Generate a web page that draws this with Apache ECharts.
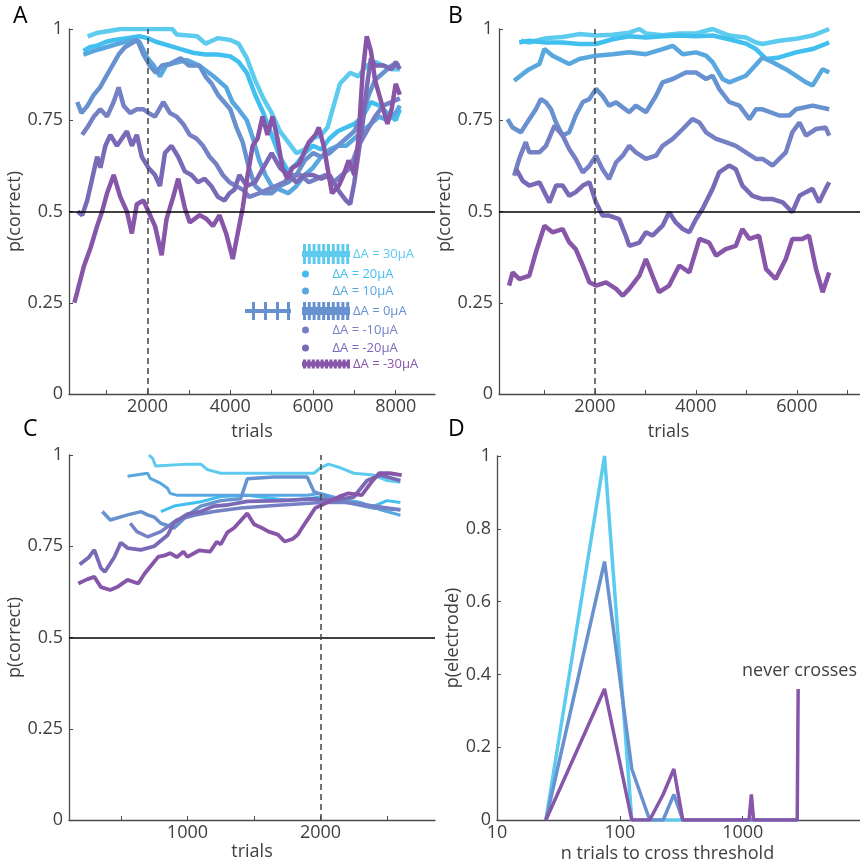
<!DOCTYPE html>
<html>
<head>
<meta charset="utf-8">
<script src="https://cdn.jsdelivr.net/npm/echarts@6/dist/echarts.min.js"></script>
<style>
html,body{margin:0;padding:0;background:#fff;}
#chart{width:860px;height:867px;}
</style>
</head>
<body>
<div id="chart"></div>
<script>
// series names and colours, 30uA (cyan) down to -30uA (purple)
var names = ['ΔA = 30μA', 'ΔA = 20μA', 'ΔA = 10μA', 'ΔA = 0μA', 'ΔA = -10μA', 'ΔA = -20μA', 'ΔA = -30μA'];
var colors = ['#5DCBEE', '#41BFEF', '#58A8DF', '#6891D0', '#7580C5', '#7A69B6', '#8756A8'];

// panel A : [trial, p(correct)]
var a30 = [[550,0.98],[800,0.99],[1100,0.995],[1350,1.0],[2600,1.0],[2700,0.985],[3200,0.98],[3400,0.96],[3600,0.97],[3700,0.975],[4000,0.97],[4200,0.96],[4400,0.92],[4600,0.86],[4800,0.81],[5000,0.77],[5200,0.72],[5400,0.69],[5600,0.66],[5800,0.67],[6000,0.7],[6200,0.71],[6350,0.73],[6500,0.79],[6650,0.85],[6900,0.88],[7100,0.87],[7300,0.9],[7500,0.91],[7700,0.9],[7900,0.89],[8100,0.89]];
var a20 = [[450,0.94],[600,0.95],[800,0.955],[1000,0.965],[1200,0.97],[1500,0.975],[1800,0.98],[2000,0.975],[2200,0.965],[2500,0.955],[2800,0.945],[3100,0.935],[3400,0.93],[3700,0.93],[4000,0.925],[4200,0.91],[4400,0.88],[4600,0.82],[4800,0.77],[5000,0.71],[5200,0.65],[5400,0.61],[5600,0.63],[5800,0.66],[6000,0.68],[6200,0.67],[6400,0.7],[6600,0.72],[6800,0.73],[7000,0.74],[7200,0.76],[7400,0.8],[7600,0.79],[7800,0.77],[8000,0.75],[8100,0.78]];
var a10 = [[450,0.93],[700,0.94],[1000,0.95],[1300,0.96],[1650,0.97],[1800,0.965],[2000,0.92],[2150,0.9],[2300,0.87],[2450,0.9],[2600,0.905],[2950,0.915],[3250,0.9],[3600,0.87],[3900,0.84],[4050,0.8],[4200,0.78],[4400,0.75],[4550,0.7],[4700,0.64],[4850,0.6],[5000,0.57],[5200,0.56],[5400,0.55],[5600,0.57],[5800,0.6],[6000,0.62],[6200,0.65],[6400,0.67],[6600,0.68],[6800,0.68],[7000,0.7],[7200,0.72],[7400,0.74],[7600,0.76],[7800,0.75],[8000,0.77],[8100,0.79]];
var a0 = [[300,0.8],[400,0.77],[550,0.79],[700,0.82],[850,0.84],[1000,0.87],[1150,0.9],[1300,0.93],[1450,0.95],[1600,0.96],[1750,0.97],[1900,0.93],[2050,0.9],[2200,0.88],[2350,0.9],[2550,0.905],[2800,0.92],[3000,0.9],[3250,0.9],[3400,0.87],[3550,0.85],[3700,0.82],[3850,0.8],[4000,0.78],[4150,0.73],[4300,0.69],[4450,0.62],[4600,0.57],[4800,0.55],[5000,0.55],[5200,0.57],[5400,0.58],[5600,0.6],[5800,0.64],[6000,0.66],[6200,0.65],[6400,0.66],[6600,0.68],[6800,0.7],[7000,0.72],[7200,0.77],[7350,0.82],[7500,0.86],[7700,0.88],[7900,0.9],[8100,0.9]];
var am10 = [[420,0.71],[540,0.73],[700,0.76],[860,0.78],[1020,0.76],[1180,0.8],[1300,0.84],[1420,0.79],[1580,0.77],[1740,0.78],[1900,0.78],[2020,0.77],[2180,0.76],[2380,0.8],[2540,0.77],[2700,0.76],[2860,0.74],[3020,0.71],[3180,0.7],[3340,0.68],[3500,0.65],[3660,0.63],[3820,0.6],[3980,0.58],[4140,0.57],[4300,0.56],[4460,0.54],[4700,0.55],[4900,0.56],[5100,0.57],[5300,0.58],[5500,0.6],[5700,0.6],[5900,0.58],[6100,0.59],[6300,0.6],[6500,0.58],[6700,0.6],[6900,0.62],[7100,0.68],[7300,0.72],[7500,0.76],[7700,0.79],[7900,0.8],[8100,0.81]];
var am20 = [[310,0.5],[420,0.49],[540,0.53],[660,0.59],[780,0.65],[860,0.62],[980,0.68],[1100,0.71],[1260,0.68],[1380,0.7],[1500,0.72],[1620,0.68],[1740,0.71],[1860,0.65],[2020,0.62],[2180,0.6],[2300,0.57],[2420,0.66],[2580,0.68],[2740,0.65],[2900,0.61],[3060,0.6],[3220,0.58],[3380,0.59],[3540,0.57],[3700,0.54],[3860,0.53],[3980,0.55],[4100,0.56],[4220,0.6],[4400,0.57],[4600,0.58],[4800,0.62],[5000,0.66],[5200,0.62],[5400,0.6],[5600,0.58],[5800,0.6],[6000,0.6],[6200,0.59],[6400,0.6],[6600,0.56],[6800,0.53],[6900,0.52],[7000,0.58],[7100,0.66],[7200,0.74],[7300,0.84],[7400,0.92],[7500,0.9],[7700,0.9],[7900,0.89],[8000,0.91],[8100,0.89]];
var am30 = [[230,0.25],[300,0.28],[460,0.35],[620,0.4],[780,0.46],[900,0.5],[1020,0.55],[1180,0.6],[1340,0.54],[1500,0.5],[1620,0.44],[1740,0.52],[1900,0.53],[2020,0.5],[2180,0.46],[2340,0.38],[2460,0.48],[2620,0.54],[2740,0.59],[2900,0.51],[3020,0.47],[3260,0.49],[3420,0.48],[3580,0.46],[3740,0.49],[3900,0.44],[4060,0.37],[4180,0.44],[4300,0.51],[4420,0.6],[4540,0.68],[4660,0.7],[4780,0.76],[4900,0.71],[5020,0.76],[5140,0.7],[5260,0.62],[5380,0.59],[5500,0.62],[5660,0.63],[5780,0.66],[5900,0.69],[6060,0.71],[6140,0.73],[6260,0.68],[6380,0.6],[6460,0.55],[6620,0.57],[6740,0.6],[6860,0.64],[7000,0.6],[7100,0.7],[7200,0.88],[7300,0.98],[7400,0.94],[7500,0.86],[7650,0.8],[7800,0.74],[7900,0.78],[8000,0.85],[8100,0.82]];

// panel B
var b30 = [[535,0.968],[700,0.963],[1030,0.975],[1360,0.978],[1690,0.986],[2020,0.982],[2350,0.984],[2680,0.99],[2880,1.0],[3010,0.988],[3340,0.983],[3670,0.988],[4000,0.988],[4330,1.0],[4660,0.982],[4990,0.977],[5190,0.963],[5320,0.959],[5650,0.968],[5980,0.973],[6310,0.982],[6640,1.0]];
var b20 = [[500,0.963],[700,0.968],[1030,0.963],[1360,0.963],[1690,0.959],[2020,0.959],[2350,0.972],[2680,0.98],[3010,0.977],[3340,0.98],[3670,0.982],[4000,0.98],[4330,0.982],[4660,0.972],[4990,0.96],[5190,0.945],[5390,0.918],[5650,0.922],[5980,0.936],[6310,0.945],[6640,0.963]];
var b10 = [[400,0.858],[570,0.877],[700,0.89],[900,0.904],[1000,0.945],[1160,0.927],[1360,0.913],[1490,0.904],[1690,0.918],[2020,0.927],[2350,0.931],[2680,0.936],[3010,0.931],[3340,0.945],[3540,0.954],[3740,0.931],[4000,0.936],[4200,0.927],[4330,0.909],[4530,0.863],[4660,0.854],[4990,0.872],[5320,0.922],[5520,0.909],[5780,0.89],[5980,0.872],[6180,0.854],[6310,0.845],[6510,0.89],[6640,0.881]];
var b0 = [[270,0.753],[370,0.73],[535,0.717],[700,0.753],[830,0.78],[930,0.808],[1030,0.799],[1130,0.78],[1230,0.744],[1360,0.708],[1490,0.717],[1620,0.763],[1760,0.8],[1890,0.808],[2020,0.836],[2150,0.817],[2280,0.79],[2420,0.799],[2680,0.772],[2810,0.79],[3010,0.772],[3210,0.817],[3340,0.854],[3540,0.863],[3800,0.881],[4000,0.881],[4200,0.863],[4330,0.872],[4460,0.836],[4660,0.8],[4860,0.79],[5060,0.753],[5190,0.78],[5320,0.78],[5650,0.763],[5850,0.763],[5980,0.78],[6310,0.79],[6640,0.78]];
var bm10 = [[400,0.598],[500,0.644],[630,0.69],[700,0.662],[900,0.662],[1030,0.68],[1200,0.735],[1360,0.708],[1490,0.671],[1620,0.644],[1760,0.607],[1890,0.625],[2020,0.653],[2150,0.616],[2280,0.589],[2420,0.635],[2550,0.653],[2680,0.68],[2810,0.662],[3010,0.644],[3210,0.653],[3340,0.68],[3540,0.699],[3740,0.726],[3930,0.753],[4070,0.744],[4200,0.717],[4400,0.699],[4590,0.69],[4790,0.68],[4990,0.662],[5190,0.644],[5320,0.644],[5520,0.626],[5650,0.644],[5780,0.662],[5910,0.717],[6050,0.744],[6180,0.708],[6380,0.726],[6570,0.73],[6640,0.708]];
var bm20 = [[440,0.616],[570,0.584],[700,0.571],[900,0.58],[1100,0.525],[1230,0.571],[1360,0.571],[1490,0.543],[1620,0.553],[1760,0.571],[1890,0.58],[2020,0.525],[2150,0.489],[2280,0.489],[2480,0.479],[2610,0.434],[2680,0.406],[2880,0.415],[3010,0.443],[3140,0.434],[3340,0.461],[3470,0.498],[3600,0.47],[3740,0.452],[3870,0.443],[4000,0.479],[4130,0.507],[4330,0.562],[4460,0.607],[4660,0.626],[4790,0.616],[4920,0.571],[5120,0.543],[5320,0.534],[5520,0.534],[5720,0.525],[5910,0.498],[6050,0.543],[6180,0.553],[6310,0.562],[6440,0.525],[6570,0.562],[6640,0.58]];
var bm30 = [[300,0.297],[370,0.333],[500,0.315],[700,0.324],[830,0.388],[1000,0.461],[1160,0.443],[1360,0.452],[1490,0.416],[1620,0.397],[1760,0.352],[1890,0.306],[2020,0.297],[2220,0.306],[2420,0.288],[2550,0.269],[2680,0.288],[2880,0.324],[3010,0.37],[3140,0.324],[3270,0.279],[3470,0.297],[3670,0.352],[3870,0.333],[4070,0.425],[4260,0.415],[4400,0.379],[4590,0.397],[4790,0.406],[4920,0.452],[5060,0.425],[5250,0.434],[5390,0.342],[5580,0.315],[5780,0.37],[5910,0.425],[6110,0.425],[6240,0.434],[6380,0.342],[6510,0.279],[6640,0.333]];

// panel C
var c30 = [[710,1.0],[740,0.99],[760,0.97],[1000,0.975],[1100,0.975],[1150,0.96],[1250,0.95],[1600,0.95],[1950,0.95],[2000,0.965],[2060,0.975],[2150,0.965],[2250,0.95],[2400,0.945],[2500,0.93],[2600,0.925]];
var c20 = [[800,0.845],[900,0.86],[1100,0.872],[1250,0.886],[1450,0.89],[1600,0.883],[1750,0.876],[1900,0.88],[2000,0.885],[2150,0.877],[2300,0.865],[2400,0.86],[2500,0.875],[2600,0.87]];
var c10 = [[550,0.942],[700,0.95],[720,0.936],[800,0.922],[850,0.909],[870,0.895],[920,0.89],[1350,0.89],[1900,0.89],[2000,0.895],[2150,0.88],[2300,0.87],[2450,0.85],[2600,0.835]];
var c0 = [[360,0.845],[420,0.822],[550,0.836],[650,0.845],[700,0.836],[750,0.83],[800,0.813],[900,0.8],[1000,0.835],[1100,0.86],[1250,0.875],[1400,0.88],[1450,0.935],[1650,0.94],[1900,0.94],[1950,0.9],[2050,0.885],[2200,0.87],[2400,0.855],[2600,0.85]];
var cm10 = [[570,0.813],[620,0.79],[700,0.776],[800,0.79],[920,0.822],[1050,0.835],[1200,0.845],[1400,0.855],[1600,0.86],[1800,0.865],[2000,0.87],[2200,0.87],[2400,0.86],[2600,0.85]];
var cm20 = [[190,0.7],[260,0.72],[300,0.74],[350,0.69],[380,0.68],[450,0.72],[500,0.76],[550,0.745],[650,0.74],[750,0.75],[850,0.78],[900,0.815],[1000,0.838],[1100,0.845],[1200,0.86],[1300,0.863],[1450,0.873],[1700,0.875],[1950,0.88],[2100,0.875],[2250,0.885],[2350,0.93],[2450,0.945],[2550,0.935],[2600,0.93]];
var cm30 = [[180,0.648],[250,0.66],[300,0.666],[350,0.638],[420,0.63],[480,0.64],[550,0.658],[630,0.648],[680,0.676],[720,0.694],[780,0.721],[830,0.725],[870,0.731],[920,0.72],[970,0.735],[1000,0.721],[1090,0.739],[1170,0.735],[1220,0.762],[1250,0.755],[1300,0.788],[1350,0.8],[1450,0.84],[1500,0.81],[1560,0.8],[1610,0.79],[1680,0.782],[1730,0.763],[1790,0.77],[1830,0.782],[1860,0.8],[1910,0.827],[1960,0.855],[2010,0.863],[2140,0.886],[2210,0.895],[2310,0.89],[2390,0.929],[2440,0.95],[2520,0.95],[2610,0.945]];

// panel D : n trials to cross threshold (log x) vs p(electrode)
var dTrials = [25, 75, 125, 175, 225, 275, 325, 1125, 1175, 1225, 2775, 2825];
var d30 = [0, 1, 0, 0, 0, 0, 0, 0, 0, 0, 0, 0];
var d0 = [0, 0.71, 0.14, 0, 0, 0.07, 0, 0, 0, 0, 0, 0];
var dm30 = [0, 0.36, 0, 0, 0.07, 0.14, 0, 0, 0.07, 0, 0, 0.36];

var aTicks = [1000, 2000, 3000, 4000, 5000, 6000, 7000, 8000];
var aLabels = [2000, 4000, 6000, 8000];
var bTicks = [1000, 2000, 3000, 4000, 5000, 6000, 7000];
var bLabels = [2000, 4000, 6000];
var cTicks = [500, 1000, 1500, 2000, 2500];
var cLabels = [1000, 2000];

var FONT = 'Open Sans';
var axisCol = '#4a4a4a';
var textCol = '#404040';

function xAx(idx, min, max, ticks, labels, gap, shift) {
	return {
		type: 'value', gridIndex: idx, min: min, max: max,
		name: 'trials', nameLocation: 'middle', nameGap: gap,
		nameTextStyle: { color: textCol, fontSize: 18, fontFamily: FONT, padding: [0, shift || 0, 0, 0] },
		axisLine: { lineStyle: { color: axisCol, width: 1.3 } },
		axisTick: { inside: true, length: 4, customValues: ticks, lineStyle: { color: axisCol } },
		axisLabel: { customValues: labels, margin: 4, color: textCol, fontSize: 18, fontFamily: FONT,
			formatter: function (v) { return String(v); } },
		splitLine: { show: false }
	};
}
function yAx(idx, name, interval) {
	return {
		type: 'value', gridIndex: idx, min: 0, max: 1, interval: interval,
		name: name, nameLocation: 'middle', nameGap: 31,
		nameTextStyle: { color: textCol, fontSize: 18, fontFamily: FONT },
		axisLine: { show: true, lineStyle: { color: axisCol, width: 1.3 } },
		axisTick: { show: true, inside: true, length: 4, lineStyle: { color: axisCol } },
		axisLabel: { margin: 6, color: textCol, fontSize: 18, fontFamily: FONT },
		splitLine: { show: false }
	};
}

function refLines(withDash) {
	var d = [{ yAxis: 0.5, lineStyle: { color: '#000', type: 'solid', width: 1.5 } }];
	if (withDash) d.push({ xAxis: 2000, lineStyle: { color: '#444', type: [6, 4], width: 1.5 } });
	return { silent: true, symbol: ['none', 'none'], label: { show: false }, data: d };
}

var series = [];
function addPanel(idx, sets, widths, dash) {
	for (var i = 0; i < sets.length; i++) {
		var s = {
			type: 'line', name: names[i], xAxisIndex: idx, yAxisIndex: idx,
			data: sets[i], showSymbol: false, color: colors[i],
			lineStyle: { width: widths[i], color: colors[i] }
		};
		if (i === 0) s.markLine = refLines(dash);
		series.push(s);
	}
}
addPanel(0, [a30, a20, a10, a0, am10, am20, am30], [4.5, 4.5, 4.5, 4.5, 4.5, 4.5, 4.5], true);
addPanel(1, [b30, b20, b10, b0, bm10, bm20, bm30], [4.5, 4.5, 4.5, 4.5, 4.5, 4.5, 4.5], true);
addPanel(2, [c30, c20, c10, c0, cm10, cm20, cm30], [3, 3, 3, 3.5, 3.5, 3.8, 3.8], true);

var dSets = [[d30, 0], [d0, 3], [dm30, 6]];
dSets.forEach(function (p) {
	series.push({
		type: 'line', name: names[p[1]], xAxisIndex: 3, yAxisIndex: 3,
		data: dTrials.map(function (t, k) { return [t, p[0][k]]; }),
		showSymbol: false, color: colors[p[1]],
		lineStyle: { width: 3.5, color: colors[p[1]] }
	});
});

// legend icons (MATLAB-style marker combs)
function comb(x0, w, h, band, step, bw) {
	var top = (h - band) / 2;
	var p = 'M' + x0 + ',' + top + ' L' + (x0 + w) + ',' + top + ' L' + (x0 + w) + ',' + (top + band) + ' L' + x0 + ',' + (top + band) + ' Z';
	for (var x = x0 + 1; x + bw <= x0 + w; x += step) {
		p += ' M' + x + ',0 L' + (x + bw) + ',0 L' + (x + bw) + ',' + h + ' L' + x + ',' + h + ' Z';
	}
	return p;
}
var icon30 = 'path://' + comb(0, 48, 20, 6, 4.8, 3);
var iconM30 = 'path://' + comb(0, 48, 9, 5, 4.4, 3);
var icon0 = 'path://M0,7 L46,7 L46,11 L0,11 Z M7,0 L10,0 L10,18 L7,18 Z M19,0 L22,0 L22,18 L19,18 Z M31,0 L34,0 L34,18 L31,18 Z M42,0 L45,0 L45,18 L42,18 Z ' + comb(57, 48, 18, 8, 4.8, 3);

var legRows = [
	{ top: 244, left: 302, w: 48, h: 20, icon: icon30 },
	{ top: 267, left: 302, w: 48, h: 7, icon: 'circle' },
	{ top: 284, left: 302, w: 48, h: 7, icon: 'circle' },
	{ top: 302, left: 245, w: 105, h: 18, icon: icon0 },
	{ top: 323, left: 302, w: 48, h: 7, icon: 'circle' },
	{ top: 341, left: 302, w: 48, h: 7, icon: 'circle' },
	{ top: 357, left: 302, w: 48, h: 9, icon: iconM30 }
];
var legends = legRows.map(function (r, i) {
	return {
		data: [names[i]], left: r.left, top: r.top, padding: 0,
		itemWidth: r.w, itemHeight: r.h, icon: r.icon, itemGap: 0,
		selectedMode: false,
		textStyle: { color: colors[i], fontSize: 13, lineHeight: 14, fontFamily: FONT, padding: [0, 0, 0, -2] }
	};
});

function letter(t, x, y) {
	return { text: t, left: x, top: y, padding: 0,
		textStyle: { fontSize: 23, fontWeight: 'normal', color: '#000', fontFamily: FONT } };
}

var option = {
	animation: false,
	backgroundColor: '#fff',
	title: [letter('A', 13, 5), letter('B', 448, 5), letter('C', 23, 418), letter('D', 448, 418)],
	legend: legends,
	grid: [
		{ left: 69, top: 29, width: 366, height: 365 },
		{ left: 499, top: 29, width: 361, height: 365 },
		{ left: 69, top: 455, width: 366, height: 365 },
		{ left: 497, top: 456, width: 363, height: 364 }
	],
	xAxis: [
		xAx(0, 100, 8950, aTicks, aLabels, 29),
		xAx(1, 100, 7250, bTicks, bLabels, 29, 22),
		xAx(2, 110, 2860, cTicks, cLabels, 22),
		{
			type: 'log', gridIndex: 3, min: 10, max: 9000, logBase: 10,
			name: 'n trials to cross threshold', nameLocation: 'middle', nameGap: 25,
			nameTextStyle: { color: textCol, fontSize: 18, fontFamily: FONT, padding: [0, 22, 0, 0] },
			axisLine: { lineStyle: { color: axisCol, width: 1.3 } },
			axisTick: { inside: true, length: 4, lineStyle: { color: axisCol } },
			axisLabel: { margin: 4, color: textCol, fontSize: 18, fontFamily: FONT, showMaxLabel: false,
				formatter: function (v) { return String(Math.round(v)); } },
			splitLine: { show: false }
		}
	],
	yAxis: [
		yAx(0, 'p(correct)', 0.25),
		yAx(1, 'p(correct)', 0.25),
		yAx(2, 'p(correct)', 0.25),
		yAx(3, 'p(electrode)', 0.2)
	],
	graphic: [{
		type: 'text', right: 3, top: 662,
		style: { text: 'never crosses', fill: textCol, fontSize: 18, fontFamily: FONT }
	}],
	series: series
};

var myChart = echarts.init(document.getElementById('chart'));
myChart.setOption(option);
</script>
</body>
</html>
